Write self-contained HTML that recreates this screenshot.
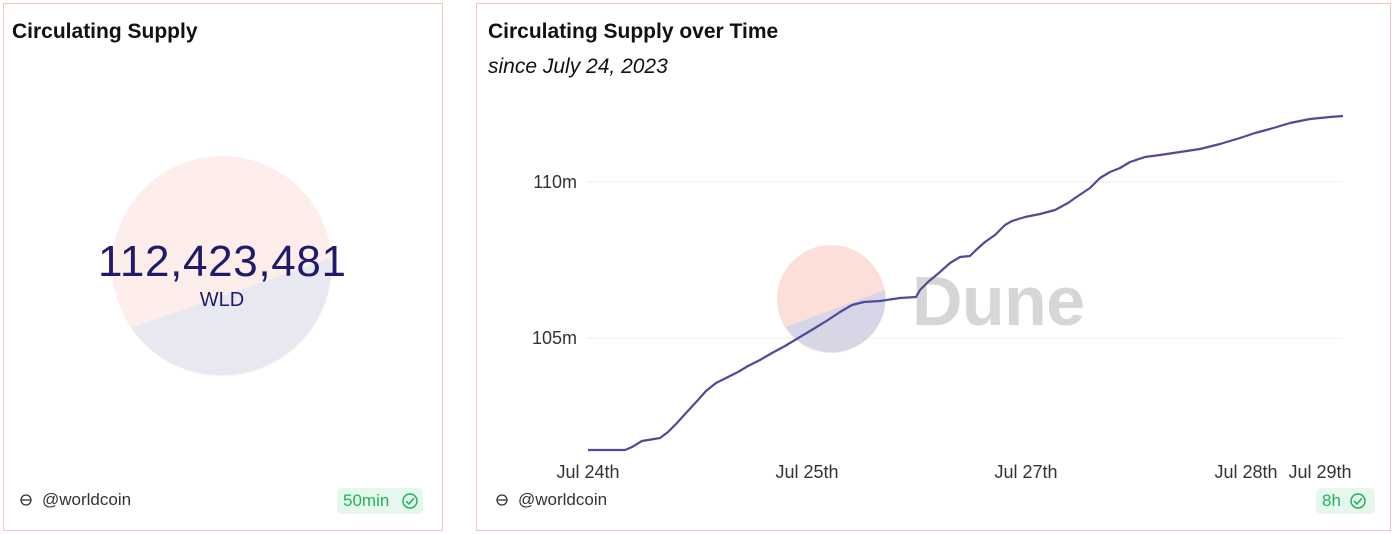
<!DOCTYPE html>
<html><head><meta charset="utf-8"><style>
body{margin:0;width:1398px;height:534px;background:#fff;font-family:"Liberation Sans",sans-serif;position:relative;overflow:hidden}
.box{position:absolute;border:1px solid #f9c2ba;background:#fff}
.t{position:absolute;font-weight:bold;font-size:21px;color:#111}
.foot{position:absolute;font-size:17px;color:#333}
.badge{position:absolute;background:#e6f7ed;color:#1fb35a;border-radius:5px;font-size:17px;padding:3px 34px 3px 6px}
</style></head><body>
<div class="box" style="left:3px;top:3px;width:438px;height:526px"></div>
<div class="box" style="left:476px;top:3px;width:913px;height:526px"></div>
<div class="t" style="left:12px;top:20px">Circulating Supply</div>
<div class="t" style="left:488px;top:20px">Circulating Supply over Time</div>
<div style="position:absolute;left:488px;top:55px;font-size:21px;font-style:italic;color:#111">since July 24, 2023</div>
<div class="foot" style="left:42px;top:490px">@worldcoin</div>
<div class="foot" style="left:518px;top:490px">@worldcoin</div>
<div class="badge" style="left:337px;top:488px">50min</div>
<div class="badge" style="left:1316px;top:488px">8h</div>
<svg width="1398" height="534" style="position:absolute;left:0;top:0;z-index:2">
<circle cx="222" cy="266" r="110" fill="#fdeeeb"/>
<path d="M131,328 L331,258 A110,110 0 0 1 131,328 Z" fill="#e8e8f1"/>
<text x="222" y="276" font-size="44" fill="#1f1a6b" text-anchor="middle" font-family="Liberation Sans" textLength="248">112,423,481</text>
<text x="222" y="306" font-size="20" fill="#1f1a6b" text-anchor="middle" font-family="Liberation Sans">WLD</text>
<line x1="588" y1="182" x2="1343" y2="182" stroke="#eee"/>
<line x1="588" y1="338" x2="1343" y2="338" stroke="#eee"/>
<circle cx="831" cy="299" r="54" fill="#fddfd9"/>
<path d="M786,327 L885,290 A54,54 0 0 1 786,327 Z" fill="#d6d6e6"/>
<text x="912" y="325" font-size="70" font-weight="bold" fill="#d6d6d6" font-family="Liberation Sans" textLength="173">Dune</text>
<g font-size="18" fill="#333" font-family="Liberation Sans">
<text x="577" y="188" text-anchor="end">110m</text>
<text x="577" y="344" text-anchor="end">105m</text>
<text x="588" y="478" text-anchor="middle">Jul 24th</text>
<text x="807" y="478" text-anchor="middle">Jul 25th</text>
<text x="1026" y="478" text-anchor="middle">Jul 27th</text>
<text x="1246" y="478" text-anchor="middle">Jul 28th</text>
<text x="1320" y="478" text-anchor="middle">Jul 29th</text>
</g>
<polyline fill="none" stroke="#4f4b98" stroke-width="2.2" stroke-linejoin="round" points="588,450 625,450 632,447 642,441 660,438 668,432 676,424 686,413 698,400 706,391 716,383 728,377 738,372 748,366 760,360 772,353 785,346 800,337 815,328 828,320 840,312 852,305 864,302 880,301 900,298 916,297 920,290 928,282 940,272 950,263 960,257 970,256 976,250 985,242 995,235 1005,225 1012,221 1025,217 1040,214 1055,210 1068,203 1075,198 1090,188 1100,178 1110,172 1120,168 1130,162 1145,157 1160,155 1180,152 1200,149 1220,144 1240,138 1255,133 1270,129 1290,123 1310,119 1330,117 1343,116"/>
<g fill="none" stroke="#333" stroke-width="1.3"><circle cx="26" cy="500" r="5"/><line x1="21" y1="500" x2="31" y2="500"/><circle cx="502" cy="500" r="5"/><line x1="497" y1="500" x2="507" y2="500"/></g>
<g fill="none" stroke="#1fb35a" stroke-width="1.5"><circle cx="410" cy="501" r="7"/><polyline points="406,501 409,504 414,498"/><circle cx="1358" cy="501" r="7"/><polyline points="1354,501 1357,504 1362,498"/></g>
</svg>
</body></html>
